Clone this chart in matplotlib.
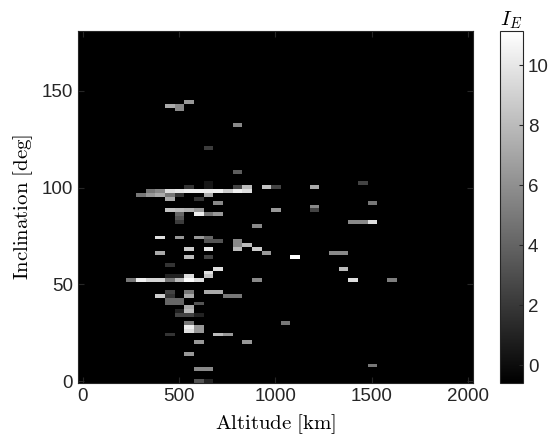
import numpy as np
import matplotlib
matplotlib.use('Agg')
import matplotlib.pyplot as plt

plt.rcParams['font.family'] = ['Liberation Sans', 'DejaVu Sans']
plt.rcParams['mathtext.fontset'] = 'cm'

# grid of the map: 50 km altitude bins, 2 deg inclination bins
alt_centers = np.arange(0, 2001, 50)
inc_centers = np.arange(0, 181, 2)
background = -0.59
vmax = 11.14

# non-empty cells (altitude km, inclination deg, I_E)
altitude = [550, 450, 500, 500, 800, 650, 800,
            650, 1450,
            550, 650, 800, 850, 950, 1000, 1200,
            350, 400, 450, 500, 550, 600, 650, 700, 750, 800, 850,
            300, 350, 400, 450, 500, 650,
            450, 600,
            700, 1500,
            1200,
            450, 500, 550, 600, 1000, 1200,
            500, 600, 650, 700,
            500,
            500, 1400, 1450, 1500,
            900,
            400, 500, 600, 650,
            650, 700, 800,
            800, 850,
            550, 650, 800, 900,
            400, 950, 1300, 1350,
            550, 650, 1100,
            450,
            700, 1350,
            650,
            450, 500, 550, 650,
            250, 300, 350, 400, 450, 500, 550, 600, 900, 1400, 1600,
            450, 550, 650, 700,
            400, 450, 550, 750, 800,
            450, 500,
            450, 500, 600,
            550,
            500, 550,
            500, 550, 600,
            550, 1050,
            550, 600,
            550, 600,
            450, 700, 750,
            600, 850,
            550,
            1500,
            600, 650,
            600, 650]
inclination = [144, 142, 142, 140, 132, 120, 108,
               102, 102,
               100, 100, 100, 100, 100, 100, 100,
               98, 98, 98, 98, 98, 98, 98, 98, 98, 98, 98,
               96, 96, 96, 96, 96, 96,
               94, 94,
               92, 92,
               90,
               88, 88, 88, 88, 88, 88,
               86, 86, 86, 86,
               84,
               82, 82, 82, 82,
               80,
               74, 74, 74, 74,
               72, 72, 72,
               70, 70,
               68, 68, 68, 68,
               66, 66, 66, 66,
               64, 64, 64,
               60,
               58, 58,
               56,
               54, 54, 54, 54,
               52, 52, 52, 52, 52, 52, 52, 52, 52, 52, 52,
               46, 46, 46, 46,
               44, 44, 44, 44, 44,
               42, 42,
               40, 40, 40,
               38,
               36, 36,
               34, 34, 34,
               30, 30,
               28, 28,
               26, 26,
               24, 24, 24,
               20, 20,
               14,
               8,
               6, 6,
               0, 0]
index_value = [6.4, 7.2, 5.7, 5.7, 5.7, 2.2, 3.7,
               0.5, 2.5,
               1.8, 0.5, 2.5, 8.0, 8.4, 2.5, 7.2,
               4.9, 5.7, 9.6, 10.0, 10.4, 10.4, 10.2, 10.4, 8.8, 10.4, 9.6,
               4.9, 6.4, 7.2, 4.9, 1.8, 7.2,
               7.2, 1.8,
               5.7, 4.9,
               5.7,
               8.4, 8.0, 7.6, 6.4, 6.4, 2.5,
               4.1, 10.4, 4.9, 6.4,
               3.3,
               2.2, 5.7, 5.7, 9.6,
               5.7,
               9.6, 6.4, 6.4, 4.1,
               3.3, 3.3, 5.7,
               5.7, 8.0,
               8.8, 10.0, 8.0, 8.8,
               7.2, 6.4, 5.7, 5.7,
               8.0, 2.5, 11.14,
               1.8,
               9.6, 8.0,
               9.6,
               1.0, 1.0, 9.6, 8.4,
               4.9, 10.4, 9.2, 9.2, 4.9, 8.0, 11.0, 9.6, 5.7, 9.6, 5.2,
               2.5, 4.9, 7.2, 7.2,
               8.8, 1.8, 7.2, 4.9, 4.9,
               4.1, 4.1,
               4.1, 4.1, 3.3,
               7.2,
               1.0, 8.0,
               2.5, 2.5, 1.0,
               4.9, 4.9,
               10.4, 6.4,
               9.6, 6.4,
               1.8, 8.0, 6.4,
               6.4, 6.4,
               6.4,
               4.9,
               5.7, 5.7,
               3.3, 1.0]

grid = np.full((len(inc_centers), len(alt_centers)), background)
for a, inc, v in zip(altitude, inclination, index_value):
    grid[inc // 2, a // 50] = v

fig = plt.figure(figsize=(5.49, 4.44), dpi=100)
ax = fig.add_axes([0.142, 0.1374, 0.7195, 0.7928])
im = ax.imshow(grid, cmap='gray', origin='lower', aspect='auto',
               interpolation='nearest', vmin=background, vmax=vmax,
               extent=[-25, 2025, -1, 181])
ax.set_xticks([0, 500, 1000, 1500, 2000])
ax.set_yticks([0, 50, 100, 150])
ax.tick_params(direction='in', length=4, labelsize=13.5, colors='#262626',
               top=True, right=True)
for s in ax.spines.values():
    s.set_color('#262626')
ax.set_xlabel(r'$\mathrm{Altitude\ [km]}$', fontsize=15, labelpad=5)
ax.set_ylabel(r'$\mathrm{Inclination\ [deg]}$', fontsize=15, labelpad=5)

cax = fig.add_axes([0.9107, 0.1374, 0.0419, 0.7928])
cb = fig.colorbar(im, cax=cax, ticks=[0, 2, 4, 6, 8, 10])
cax.tick_params(direction='in', length=3, labelsize=13.5, colors='#262626')
cb.outline.set_edgecolor('#262626')
cax.set_title(r'$I_E$', fontsize=15, pad=3)

fig.savefig('out.png', dpi=100)
